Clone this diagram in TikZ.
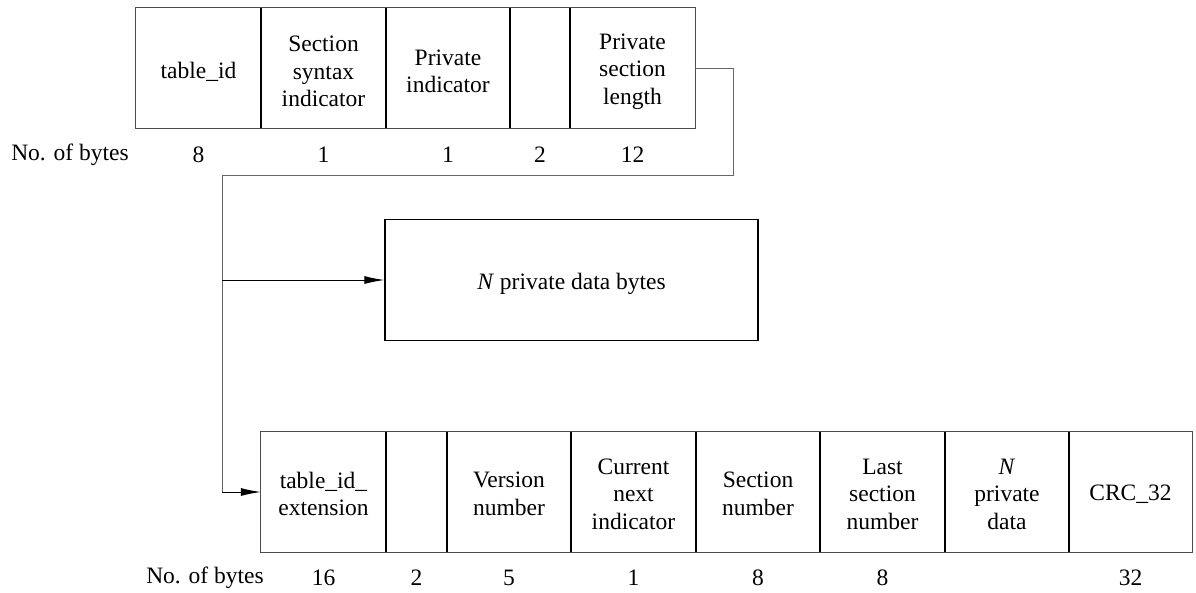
\documentclass[tikz,border=0pt]{standalone}
\usepackage{fontspec}
\setmainfont{Liberation Serif}
\usetikzlibrary{arrows.meta,calc}

\begin{document}
\begin{tikzpicture}[x=1pt,y=-1pt,
  every node/.style={font=\fontsize{23.5}{27.5}\selectfont},
  cell/.style={rectangle,inner sep=0pt,minimum height=120pt},
  fieldtext/.style={inner sep=0pt,align=center},
  frame/.style={draw=black!70,line width=1.3pt},
  divider/.style={draw=black,line width=1.8pt},
  link/.style={draw=black!60,line width=1pt},
  feed/.style={draw=black,line width=1pt,-{Latex[length=20pt,width=8pt]}},
  count/.style={anchor=center}]
\useasboundingbox (0,0) rectangle (1196,592);

% ---- header fields ----
\node[cell,minimum width=125pt] (t1) at (198.5,68) {};
\node[cell,minimum width=125pt] (t2) at (323.5,68) {};
\node[cell,minimum width=124pt] (t3) at (448,68) {};
\node[cell,minimum width=60pt]  (t4) at (540,68) {};
\node[cell,minimum width=125pt] (t5) at (632.5,68) {};
\draw[frame] (t1.north west) rectangle (t5.south east);
\foreach \c in {t1,t2,t3,t4}
  \draw[divider] (\c.north east) -- (\c.south east);
\node[fieldtext] (t1x) at ([yshift=-3.5pt]t1.center) {table\_id};
\node[fieldtext] (t2x) at ([yshift=-3.5pt]t2.center) {Section\\syntax\\indicator};
\node[fieldtext] (t3x) at ([yshift=-3.5pt]t3.center) {Private\\indicator};
\node[fieldtext] (t5x) at ([yshift=-3.5pt]t5.center) {Private\\section\\length};

\node[count] (hlab) at (70,155) {No. of bytes};
\node[count] (h1) at (t1 |- hlab) {8};
\node[count] (h2) at (t2 |- hlab) {1};
\node[count] (h3) at (t3 |- hlab) {1};
\node[count] (h4) at (t4 |- hlab) {2};
\node[count] (h5) at (t5 |- hlab) {12};

% ---- private data block ----
\node[rectangle,draw=black,line width=1.3pt,minimum width=373pt,minimum height=121pt,inner sep=0pt]
  (mid) at (571.5,280) {};
\node[fieldtext] (midx) at ([yshift=-3.5pt]mid.center) {\textit{N} private data bytes};

% ---- extended section fields ----
\node[cell,minimum width=125pt] (b1) at (323.5,492) {};
\node[cell,minimum width=61pt]  (b2) at (416.5,492) {};
\node[cell,minimum width=124pt] (b3) at (509,492) {};
\node[cell,minimum width=125pt] (b4) at (633.5,492) {};
\node[cell,minimum width=124pt] (b5) at (758,492) {};
\node[cell,minimum width=125pt] (b6) at (882.5,492) {};
\node[cell,minimum width=124pt] (b7) at (1007,492) {};
\node[cell,minimum width=123pt] (b8) at (1130.5,492) {};
\draw[frame] (b1.north west) rectangle (b8.south east);
\foreach \c in {b1,b2,b3,b4,b5,b6,b7}
  \draw[divider] (\c.north east) -- (\c.south east);
\node[fieldtext] (b1x) at ([yshift=-2pt]b1.center) {table\_id\_\\extension};
\node[fieldtext] (b3x) at ([yshift=-2pt]b3.center) {Version\\number};
\node[fieldtext] (b4x) at ([yshift=-2pt]b4.center) {Current\\next\\indicator};
\node[fieldtext] (b5x) at ([yshift=-2pt]b5.center) {Section\\number};
\node[fieldtext] (b6x) at ([yshift=-2pt]b6.center) {Last\\section\\number};
\node[fieldtext] (b7x) at ([yshift=-2pt]b7.center) {\textit{N}\\private\\data};
\node[fieldtext] (b8x) at ([yshift=-2pt]b8.center) {CRC\_32};

\node[count] (blab) at (205,578) {No. of bytes};
\node[count] (n1) at (b1 |- blab) {16};
\node[count] (n2) at (b2 |- blab) {2};
\node[count] (n3) at (b3 |- blab) {5};
\node[count] (n4) at (b4 |- blab) {1};
\node[count] (n5) at (b5 |- blab) {8};
\node[count] (n6) at (b6 |- blab) {8};
\node[count] (n8) at (b8 |- blab) {32};

% ---- connectors ----
\coordinate (turnA) at (733,175);
\coordinate (turnB) at (222,175);
\coordinate (split) at (turnB |- mid.west);
\coordinate (foot)  at (turnB |- b1.west);
\draw[link] (t5.east) -| (turnA) -- (turnB) -- (foot);
\draw[feed] (split) -- (mid.west);
\draw[feed] (foot) -- (b1.west);
\end{tikzpicture}
\end{document}
